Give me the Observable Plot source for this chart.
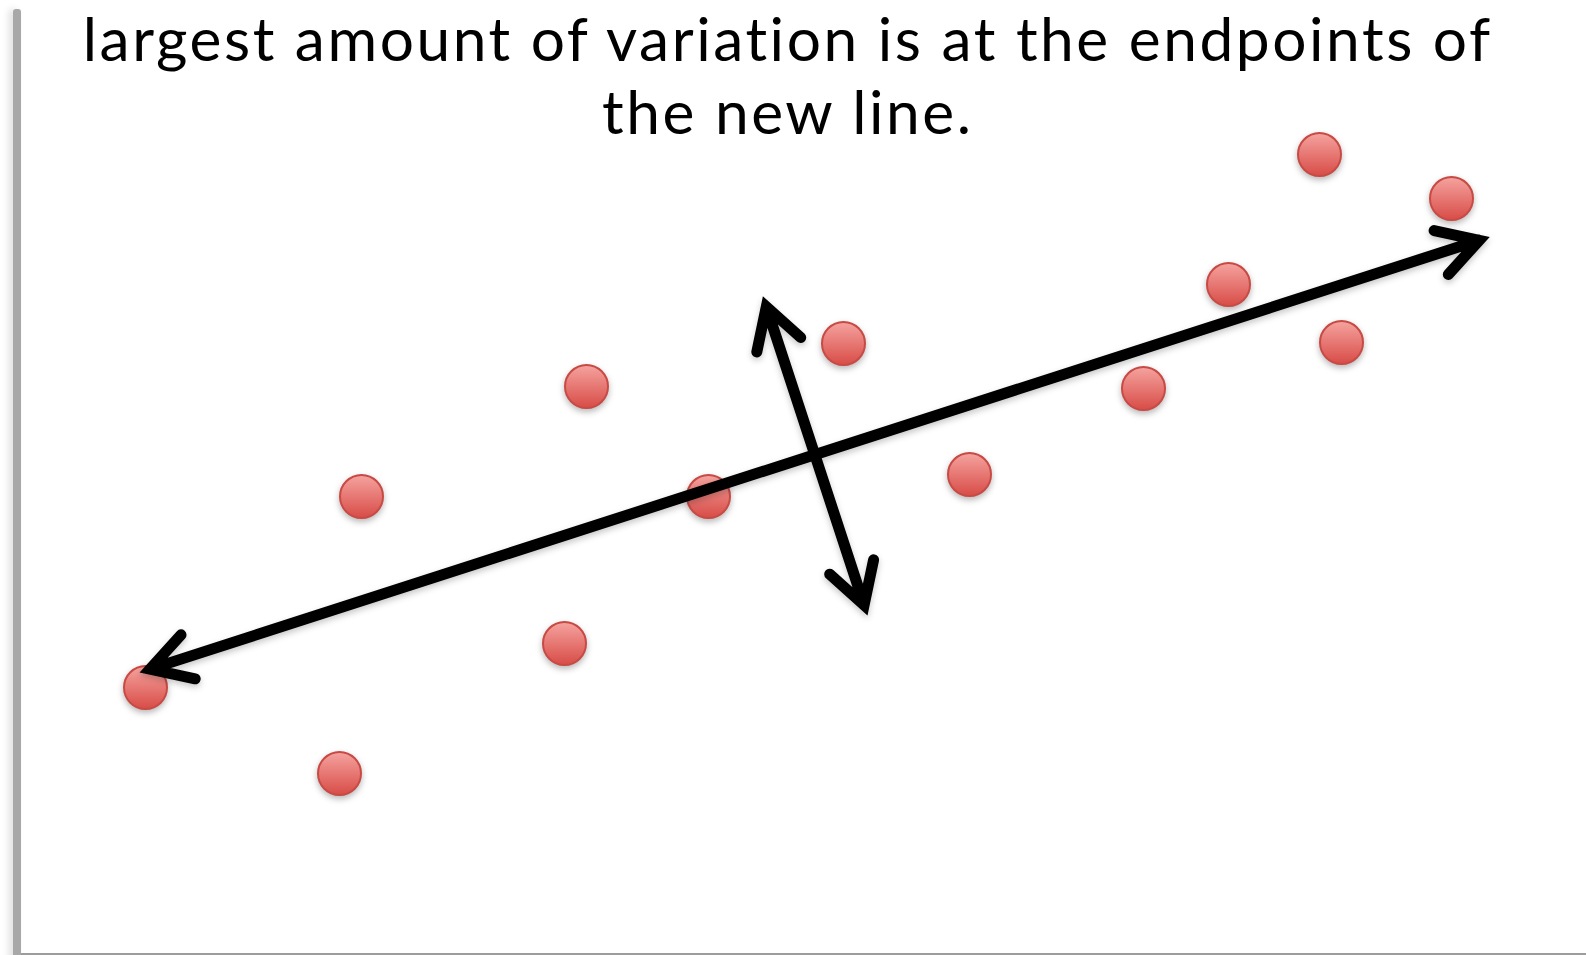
<!DOCTYPE html>
<html>
<head>
<meta charset="utf-8">
<script src="https://cdn.jsdelivr.net/npm/d3@7"></script>
<script src="https://cdn.jsdelivr.net/npm/@observablehq/plot@0.6"></script>
<style>
  html, body { margin: 0; padding: 0; background: #fff; }
  #page { position: relative; width: 1586px; height: 955px; overflow: hidden; background: #fff; }
  #bar { position: absolute; left: 13px; top: 9px; width: 8px; height: 960px; background: #a8a8a8;
         border-radius: 3px 3px 0 0; box-shadow: -4px 0 7px rgba(0,0,0,0.13); }
  #bottomline { position: absolute; left: 21px; right: 0; top: 953px; height: 2px; background: #9c9c9c; }
  .tline { position: absolute; left: 0; width: 1573px; margin: 0; text-align: center; white-space: nowrap;
           font-family: Lato, "Open Sans", sans-serif; font-weight: normal; color: #000; }
  #chart { position: absolute; left: 0; top: 125px; }
</style>
</head>
<body>
<div id="page">
  <div id="bar"></div>
  <div id="bottomline"></div>
  <div id="title"></div>
  <div id="chart"></div>
</div>
<script>
// ---- Title text ----
const titleLines = ["largest amount of variation is at the endpoints of", "the new line."];

// ---- Data points (arbitrary units) ----
const pointX = [0.45, 2.39, 2.61, 4.64, 4.86, 6.08, 7.43, 8.69, 10.43, 11.28, 12.19, 12.41, 13.51];
const pointY = [2.68, 1.82, 4.59, 3.12, 5.69, 4.59, 6.12, 4.81, 5.67, 6.71, 8.01, 6.13, 7.57];

// ---- Principal direction arrows (double-headed): visual tip to tip ----
const arrowNames = ["first", "second"];
const arrowStartX = [0.40, 6.627];
const arrowStartY = [2.833, 6.583];
const arrowEndX = [13.883, 7.667];
const arrowEndY = [7.183, 3.41];

// Title sizing and placement
const lineStep = 73;
const firstBaseline = 61;
const targetWidth = 1411;
const cnv = document.createElement("canvas").getContext("2d");
cnv.font = "58px Lato";
const w58 = cnv.measureText(titleLines[0]).width;
const fs = Math.min(58 * targetWidth / w58, (lineStep - 0.5) / 1.2);
cnv.font = fs + "px Lato";
const wFs = cnv.measureText(titleLines[0]).width;
const spacing = Math.max(0, (targetWidth - wFs) / (titleLines[0].length - 1));
const titleEl = document.getElementById("title");
titleLines.forEach((t, i) => {
  const d = document.createElement("div");
  d.className = "tline";
  d.textContent = t;
  d.style.fontSize = fs + "px";
  d.style.letterSpacing = spacing + "px";
  d.style.textIndent = spacing + "px";
  d.style.lineHeight = lineStep + "px";
  d.style.height = lineStep + "px";
  const top0 = Math.max(0, firstBaseline - (lineStep - 1.2 * fs) / 2 - 0.987 * fs);
  d.style.top = (top0 + i * lineStep) + "px";
  titleEl.appendChild(d);
});

const points = pointX.map((x, i) => ({x, y: pointY[i]}));

// Each double-headed arrow -> two single-headed segments from its midpoint
const segments = [];
arrowNames.forEach((name, i) => {
  const mx = (arrowStartX[i] + arrowEndX[i]) / 2;
  const my = (arrowStartY[i] + arrowEndY[i]) / 2;
  segments.push({name, x1: mx, y1: my, x2: arrowStartX[i], y2: arrowStartY[i]});
  segments.push({name, x1: mx, y1: my, x2: arrowEndX[i], y2: arrowEndY[i]});
});

const plot = Plot.plot({
  width: 1586,
  height: 830,
  margin: 0,
  x: {domain: [-1, 14.86], axis: null},
  y: {domain: [0, 8.3], axis: null},
  style: {background: "transparent", overflow: "visible"},
  marks: [
    Plot.dot(points, {x: "x", y: "y", r: 21.5, fill: "url(#dotGrad)", stroke: "#c84a44", strokeWidth: 2}),
    Plot.arrow(segments, {
      x1: "x1", y1: "y1", x2: "x2", y2: "y2",
      stroke: "#000", strokeWidth: 11, headLength: 6.3, headAngle: 60,
      insetEnd: 10, strokeLinecap: "round", strokeLinejoin: "miter", strokeMiterlimit: 10
    })
  ]
});

const svg = d3.select(plot);
const defs = svg.insert("defs", ":first-child");
const grad = defs.append("linearGradient").attr("id", "dotGrad")
  .attr("x1", 0).attr("y1", 0).attr("x2", 0).attr("y2", 1);
grad.append("stop").attr("offset", "0%").attr("stop-color", "#f5a39f");
grad.append("stop").attr("offset", "100%").attr("stop-color", "#d84c47");
svg.selectAll("g[aria-label=dot]").style("filter", "drop-shadow(0px 3px 3px rgba(0,0,0,0.28))");
svg.selectAll("g[aria-label=arrow]").style("filter", "drop-shadow(0px 3px 3px rgba(0,0,0,0.22))");

document.getElementById("chart").appendChild(plot);
</script>
</body>
</html>
